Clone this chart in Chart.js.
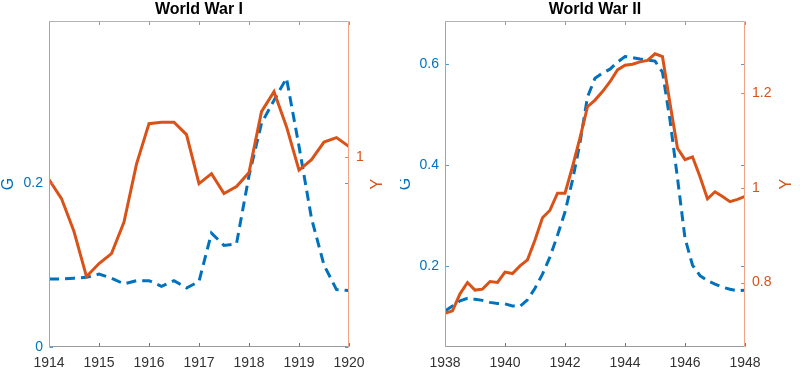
<!DOCTYPE html>
<html>
<head>
<meta charset="utf-8">
<script src="https://cdn.jsdelivr.net/npm/chart.js@4"></script>
<style>
  body { margin: 0; background: #fff; }
  .wrap { position: absolute; top: 0; width: 400px; height: 376px; }
</style>
</head>
<body>
<div class="wrap" style="left:0"><canvas id="ww1" width="400" height="376"></canvas></div>
<div class="wrap" style="left:400px"><canvas id="ww2" width="400" height="376"></canvas></div>
<script>
// World War I, quarterly
const wwiYears = [1914, 1914.25, 1914.5, 1914.75, 1915, 1915.25, 1915.5, 1915.75,
  1916, 1916.25, 1916.5, 1916.75, 1917, 1917.25, 1917.5, 1917.75,
  1918, 1918.25, 1918.5, 1918.75, 1919, 1919.25, 1919.5, 1919.75, 1920];
const wwiG = [0.083, 0.083, 0.084, 0.085, 0.089, 0.084, 0.077, 0.081,
  0.081, 0.074, 0.081, 0.072, 0.080, 0.139, 0.124, 0.126,
  0.209, 0.273, 0.301, 0.328, 0.245, 0.157, 0.100, 0.070, 0.069];
const wwiY = [0.955, 0.917, 0.851, 0.761, 0.787, 0.807, 0.870, 0.986,
  1.067, 1.070, 1.070, 1.045, 0.947, 0.967, 0.927, 0.941,
  0.969, 1.091, 1.131, 1.061, 0.974, 0.995, 1.030, 1.039, 1.021];
const wwiXTicks = [1914, 1915, 1916, 1917, 1918, 1919, 1920];
const wwiGTicks = [0, 0.2];
const wwiYTicks = [1];

// World War II, quarterly
const wwiiYears = [1938, 1938.25, 1938.5, 1938.75, 1939, 1939.25, 1939.5, 1939.75,
  1940, 1940.25, 1940.5, 1940.75, 1941, 1941.25, 1941.5, 1941.75,
  1942, 1942.25, 1942.5, 1942.75, 1943, 1943.25, 1943.5, 1943.75,
  1944, 1944.25, 1944.5, 1944.75, 1945, 1945.25, 1945.5, 1945.75,
  1946, 1946.25, 1946.5, 1946.75, 1947, 1947.25, 1947.5, 1947.75, 1948];
const wwiiG = [0.111, 0.121, 0.131, 0.136, 0.134, 0.132, 0.128, 0.126,
  0.125, 0.121, 0.120, 0.133, 0.156, 0.184, 0.218, 0.261,
  0.307, 0.370, 0.444, 0.535, 0.572, 0.582, 0.590, 0.604,
  0.615, 0.613, 0.610, 0.608, 0.606, 0.584, 0.489, 0.374,
  0.255, 0.202, 0.181, 0.171, 0.164, 0.158, 0.154, 0.151, 0.152];
const wwiiY = [0.735, 0.740, 0.776, 0.800, 0.784, 0.786, 0.802, 0.800,
  0.822, 0.819, 0.835, 0.848, 0.890, 0.937, 0.953, 0.989,
  0.989, 1.045, 1.106, 1.172, 1.186, 1.204, 1.225, 1.250,
  1.260, 1.262, 1.267, 1.270, 1.284, 1.278, 1.179, 1.084,
  1.060, 1.066, 1.024, 0.977, 0.992, 0.982, 0.971, 0.976, 0.982];
const wwiiXTicks = [1938, 1940, 1942, 1944, 1946, 1948];
const wwiiGTicks = [0.2, 0.4, 0.6];
const wwiiYTicks = [0.8, 1, 1.2];

const BLUE = '#0072BD';
const ORANGE = '#D95319';
const FONT = '"Liberation Sans", Arial, sans-serif';

// MATLAB-like box: coloured y axis lines, inward ticks on all sides, rotated labels
const matlabBox = {
  id: 'matlabBox',
  afterDraw(chart, args, opts) {
    const ctx = chart.ctx;
    const a = chart.chartArea;
    const L = Math.round(a.left) + 0.5, R = Math.round(a.right) - 0.5;
    const T = Math.round(a.top) + 0.5, B = Math.round(a.bottom) - 0.5;
    const tl = 3.5;
    ctx.save();
    ctx.lineWidth = 1;
    const seg = (x1, y1, x2, y2, c) => {
      ctx.strokeStyle = c;
      ctx.beginPath(); ctx.moveTo(x1, y1); ctx.lineTo(x2, y2); ctx.stroke();
    };
    seg(L, T, R, T, '#b3b3b3');
    seg(L, B, R, B, '#9a9a9a');
    chart.scales.x.ticks.forEach(t => {
      const px = Math.round(chart.scales.x.getPixelForValue(t.value)) + 0.5;
      seg(px, B, px, B - tl, '#777');
      seg(px, T, px, T + tl, '#999');
    });
    chart.scales.g.ticks.forEach(t => {
      const py = Math.round(chart.scales.g.getPixelForValue(t.value)) + 0.5;
      seg(L, py, L + tl, py, '#4d9bd6');
      seg(R, py, R - tl, py, '#4d9bd6');
    });
    chart.scales.y.ticks.forEach(t => {
      const py = Math.round(chart.scales.y.getPixelForValue(t.value)) + 0.5;
      seg(R, py, R - tl, py, '#e5835a');
    });
    seg(L, T, L, B + 0.5, '#72b3e3');
    seg(R, T, R, B + 0.5, '#f2a383');

    ctx.font = '16px ' + FONT;
    ctx.textAlign = 'center';
    ctx.textBaseline = 'middle';
    const cy = (a.top + a.bottom) / 2;
    [[opts.gx, 'G', BLUE], [opts.yx, 'Y', ORANGE]].forEach(([x, s, c]) => {
      ctx.save();
      ctx.translate(x, cy);
      ctx.rotate(-Math.PI / 2);
      ctx.fillStyle = c;
      ctx.fillText(s, 0, 0);
      ctx.restore();
    });
    ctx.restore();
  }
};

function makeChart(id, title, years, gVals, yVals, xTicks, gTicks, yTicks, gRange, yRange, leftW, rightW, gx, yx) {
  const fixed = list => scale => { scale.ticks = list.map(v => ({ value: v })); };
  return new Chart(document.getElementById(id), {
    type: 'line',
    data: {
      datasets: [
        {
          label: 'Y', yAxisID: 'y',
          data: years.map((x, i) => ({ x: x, y: yVals[i] })),
          borderColor: ORANGE, borderWidth: 3, pointRadius: 0, tension: 0, order: 0
        },
        {
          label: 'G', yAxisID: 'g',
          data: years.map((x, i) => ({ x: x, y: gVals[i] })),
          borderColor: BLUE, borderWidth: 3, borderDash: [10, 6], pointRadius: 0, tension: 0, order: 1
        }
      ]
    },
    options: {
      responsive: false,
      animation: false,
      devicePixelRatio: 1,
      layout: { padding: 0 },
      plugins: {
        legend: { display: false },
        tooltip: { enabled: false },
        title: {
          display: true, text: title, color: '#000', fullSize: false,
          font: { family: FONT, size: 16, weight: 'bold' },
          padding: { top: 0, bottom: 2 }
        },
        matlabBox: { gx: gx, yx: yx }
      },
      scales: {
        x: {
          type: 'linear', min: years[0], max: years[years.length - 1],
          afterBuildTicks: fixed(xTicks),
          afterFit: s => { s.height = 29; },
          grid: { display: false, drawTicks: false },
          border: { display: false },
          ticks: { color: '#333', padding: 8, font: { family: FONT, size: 14 }, maxRotation: 0,
                   callback: v => String(v) }
        },
        g: {
          position: 'left', min: gRange[0], max: gRange[1],
          afterBuildTicks: fixed(gTicks),
          afterFit: s => { s.width = leftW; },
          grid: { display: false, drawTicks: false },
          border: { display: false },
          ticks: { color: BLUE, padding: 6, font: { family: FONT, size: 14 }, callback: v => String(v) }
        },
        y: {
          position: 'right', min: yRange[0], max: yRange[1],
          afterBuildTicks: fixed(yTicks),
          afterFit: s => { s.width = rightW; },
          grid: { display: false, drawTicks: false },
          border: { display: false },
          ticks: { color: ORANGE, padding: 7, font: { family: FONT, size: 14 }, callback: v => String(v) }
        }
      }
    },
    plugins: [matlabBox]
  });
}

makeChart('ww1', 'World War I', wwiYears, wwiG, wwiY, wwiXTicks, wwiGTicks, wwiYTicks,
  [0, 0.3976], [0.62, 1.272], 49, 51, 9, 378);
makeChart('ww2', 'World War II', wwiiYears, wwiiG, wwiiY, wwiiXTicks, wwiiGTicks, wwiiYTicks,
  [0.0396, 0.685], [0.6635, 1.353], 45, 55, 6, 387);
</script>
</body>
</html>
